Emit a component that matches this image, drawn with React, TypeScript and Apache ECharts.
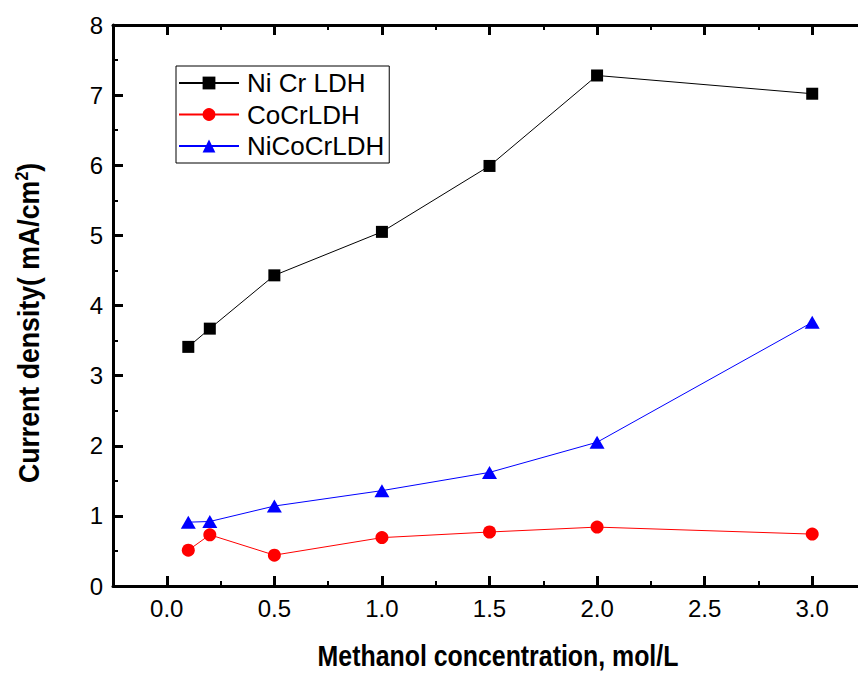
import React, { useEffect, useRef } from "react";
import * as echarts from "echarts";

const xValues = [0.1, 0.2, 0.5, 1.0, 1.5, 2.0, 3.0];
const niCr = [3.41, 3.67, 4.43, 5.05, 5.99, 7.28, 7.02];
const coCr = [0.51, 0.73, 0.44, 0.69, 0.77, 0.84, 0.74];
const niCoCr = [0.91, 0.92, 1.14, 1.36, 1.62, 2.05, 3.76];

const xMajorTicks = [0, 0.5, 1.0, 1.5, 2.0, 2.5, 3.0];
const xMinorTicks = [-0.25, 0.25, 0.75, 1.25, 1.75, 2.25, 2.75, 3.25];

const seriesNames = ["Ni Cr LDH", "CoCrLDH", "NiCoCrLDH"];
const xTitle = "Methanol concentration, mol/L";
const yTitle = "Current density( mA/cm{sup|2})";

const FONT = "'Liberation Sans', Arial, sans-serif";

export default function App() {
  const ref = useRef<HTMLDivElement>(null);
  useEffect(() => {
    document.body.style.margin = "0";
    const chart = echarts.init(ref.current!, null, { renderer: "svg" });
    const toPairs = (ys: number[]) => xValues.map((x, i) => [x, ys[i]]);
    const xBase = {
      type: "value",
      min: -0.25,
      max: 3.25,
      splitLine: { show: false },
    };
    const majorX = (pos: string, labels: boolean) => ({
      ...xBase,
      position: pos,
      axisLine: { show: true, onZero: false, lineStyle: { color: "#000", width: 3 } },
      axisTick: {
        show: true,
        inside: true,
        length: 10,
        customValues: xMajorTicks,
        lineStyle: { color: "#000", width: 3 },
      },
      axisLabel: {
        show: labels,
        customValues: xMajorTicks,
        formatter: (v: number) => v.toFixed(1),
        fontSize: 24,
        fontFamily: FONT,
        color: "#000",
        margin: 10,
      },
    });
    const minorX = (pos: string) => ({
      ...xBase,
      position: pos,
      axisLine: { show: false, onZero: false },
      axisTick: {
        show: true,
        inside: true,
        length: 5,
        customValues: xMinorTicks,
        lineStyle: { color: "#000", width: 2 },
      },
      axisLabel: { show: false },
    });
    const yAxis = {
      type: "value",
      position: "left",
      min: 0,
      max: 8,
      interval: 1,
      splitLine: { show: false },
      axisLine: { show: true, onZero: false, lineStyle: { color: "#000", width: 3 } },
      axisTick: { show: true, inside: true, length: 10, lineStyle: { color: "#000", width: 3 } },
      minorTick: { show: true, splitNumber: 2, length: 5, lineStyle: { color: "#000", width: 2 } },
      axisLabel: {
        fontSize: 24,
        fontFamily: FONT,
        color: "#000",
        margin: 10,
      },
    };
    const colors = ["#000000", "#ff0000", "#0000ff"];
    const symbols = ["rect", "circle", "triangle"];
    const sizes: any[] = [12, 13, [15, 13]];
    const datasets = [niCr, coCr, niCoCr];
    chart.setOption({
      animation: false,
      backgroundColor: "#fff",
      textStyle: { fontFamily: FONT },
      grid: {
        left: 113,
        top: 25,
        bottom: 102,
        right: -8,
        containLabel: false,
        outerBoundsMode: "none",
      },
      xAxis: [majorX("bottom", true), minorX("bottom"), majorX("top", false), minorX("top")],
      yAxis: [yAxis],
      legend: {
        orient: "vertical",
        left: 176,
        top: 66,
        itemWidth: 60,
        itemHeight: 16,
        itemGap: 5.5,
        padding: [4, 5, 4, 2],
        borderColor: "#000",
        borderWidth: 1,
        backgroundColor: "#fff",
        data: seriesNames,
        textStyle: { fontSize: 26, fontFamily: FONT, color: "#000", lineHeight: 26, padding: [0, 0, 0, 3] },
      },
      series: datasets.map((d, i) => ({
        name: seriesNames[i],
        type: "line",
        xAxisIndex: 0,
        yAxisIndex: 0,
        data: toPairs(d),
        symbol: symbols[i],
        symbolSize: sizes[i],
        showAllSymbol: true,
        lineStyle: { color: colors[i], width: 1 },
        itemStyle: { color: colors[i] },
        emphasis: { disabled: true },
      })),
      graphic: [
        {
          type: "text",
          x: 498,
          y: 656,
          scaleX: 0.83,
          style: {
            text: xTitle,
            font: `bold 30px ${FONT}`,
            fill: "#000",
            align: "center",
            verticalAlign: "middle",
          },
        },
        {
          type: "text",
          x: 28,
          y: 323,
          rotation: Math.PI / 2,
          scaleX: 0.89,
          style: {
            text: yTitle,
            font: `bold 30px ${FONT}`,
            fill: "#000",
            align: "center",
            verticalAlign: "middle",
            rich: {
              sup: { fontSize: 18, fontWeight: "bold", fontFamily: FONT, verticalAlign: "top", padding: [0, 0, 12, 0] },
            },
          },
        },
      ],
    });
    return () => chart.dispose();
  }, []);
  return <div ref={ref} style={{ width: 858, height: 688 }} />;
}
